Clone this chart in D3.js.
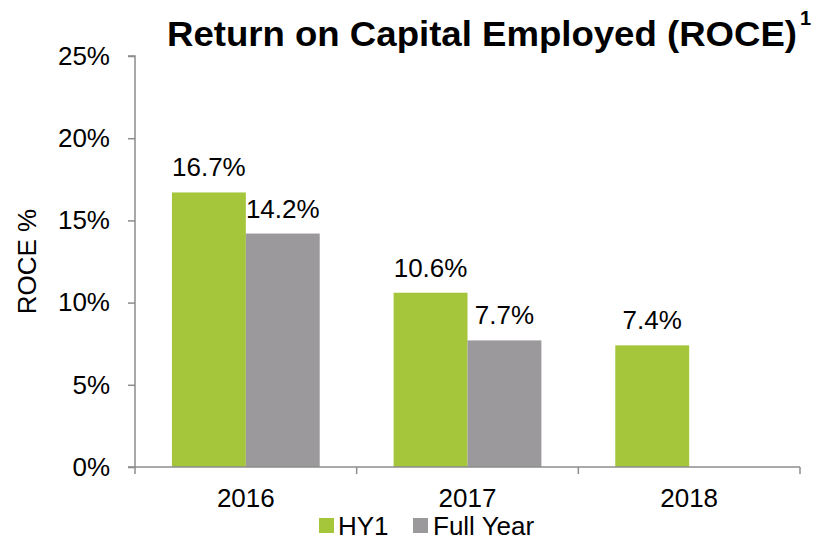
<!DOCTYPE html>
<html>
<head>
<meta charset="utf-8">
<script src="https://cdn.jsdelivr.net/npm/d3@7"></script>
<style>
  body { margin: 0; background: #fff; }
  text { font-family: "Liberation Sans", Arial, sans-serif; fill: #000; }
</style>
</head>
<body>
<svg width="813" height="541"></svg>
<script>
const years = ['2016', '2017', '2018'];
const seriesNames = ['HY1', 'Full Year'];
const hy1 = [16.7, 10.6, 7.4];
const fullYear = [14.2, 7.7, null];
const yTicks = [0, 5, 10, 15, 20, 25];
const colors = ['#a5c53a', '#9b999b'];

const margin = { left: 135, right: 13, top: 56, bottom: 74 };
const svg = d3.select('svg');
const width = +svg.attr('width');
const height = +svg.attr('height');
const innerWidth = width - margin.left - margin.right;
const innerHeight = height - margin.top - margin.bottom;
const g = svg.append('g')
  .attr('transform', `translate(${margin.left},${margin.top})`);

const xScale = d3.scaleBand()
  .domain(years)
  .range([0, innerWidth]);

// excel style: gap width 100% -> each bar is a third of the band
const xInner = d3.scaleBand()
  .domain(seriesNames)
  .range([xScale.bandwidth() / 6, xScale.bandwidth() * 5 / 6]);

const yScale = d3.scaleLinear()
  .domain([0, 25])
  .range([innerHeight, 0]);

const data = years.map((y, i) => ({
  year: y,
  values: [
    { name: 'HY1', value: hy1[i] },
    { name: 'Full Year', value: fullYear[i] }
  ].filter(d => d.value != null)
}));

const groups = g.selectAll('g.year')
  .data(data)
  .enter().append('g')
  .attr('class', 'year')
  .attr('transform', d => `translate(${xScale(d.year)},0)`);

const bars = groups.selectAll('g.bar')
  .data(d => d.values)
  .enter().append('g')
  .attr('class', 'bar');

bars.append('rect')
  .attr('x', d => xInner(d.name))
  .attr('y', d => yScale(d.value))
  .attr('width', xInner.bandwidth())
  .attr('height', d => innerHeight - yScale(d.value))
  .attr('fill', d => colors[seriesNames.indexOf(d.name)]);

bars.append('text')
  .attr('x', d => xInner(d.name) + xInner.bandwidth() / 2)
  .attr('y', d => yScale(d.value) - 16)
  .attr('text-anchor', 'middle')
  .style('font-size', '26px')
  .text(d => d.value.toFixed(1) + '%');

// axes
const axisColor = '#8c8c8c';
const yAxis = d3.axisLeft(yScale)
  .tickValues(yTicks)
  .tickSize(7)
  .tickPadding(18)
  .tickFormat(d => d + '%');
const yAxisG = g.append('g').call(yAxis);

const xAxis = d3.axisBottom(xScale).tickSize(0).tickPadding(22);
const xAxisG = g.append('g')
  .attr('transform', `translate(0,${innerHeight})`)
  .call(xAxis);

// band boundary ticks on the x axis
xAxisG.selectAll('line.bound')
  .data([0].concat(years.map(y => xScale(y) + xScale.bandwidth())))
  .enter().append('line')
  .attr('class', 'bound')
  .attr('x1', d => d).attr('x2', d => d)
  .attr('y1', 0).attr('y2', 7);

[yAxisG, xAxisG].forEach(a => {
  a.attr('font-size', 26)
    .attr('font-family', '"Liberation Sans", Arial, sans-serif');
  a.selectAll('path.domain').attr('stroke', axisColor).attr('stroke-width', 1.5);
  a.selectAll('line').attr('stroke', axisColor).attr('stroke-width', 1.5);
  a.selectAll('.tick text').attr('fill', '#000');
});
yAxisG.select('path.domain').attr('d', `M-7,0H0V${innerHeight}H-7`);
xAxisG.select('path.domain').attr('d', `M0,0H${innerWidth}`);

// y axis label
svg.append('text')
  .attr('transform', `translate(36,${margin.top + innerHeight / 2}) rotate(-90)`)
  .attr('text-anchor', 'middle')
  .style('font-size', '26px')
  .text('ROCE %');

// title
svg.append('text')
  .attr('x', 167)
  .attr('y', 46)
  .attr('textLength', 630)
  .attr('lengthAdjust', 'spacingAndGlyphs')
  .style('font-size', '35px')
  .style('font-weight', 'bold')
  .text('Return on Capital Employed (ROCE)');
svg.append('text')
  .attr('x', 800)
  .attr('y', 25)
  .style('font-size', '20px')
  .style('font-weight', 'bold')
  .text('1');

// legend
const legendX = [319, 413];
const legend = svg.selectAll('g.legend')
  .data(seriesNames)
  .enter().append('g')
  .attr('class', 'legend')
  .attr('transform', (d, i) => `translate(${legendX[i]},518)`);
legend.append('rect')
  .attr('width', 15).attr('height', 15)
  .attr('fill', (d, i) => colors[i]);
legend.append('text')
  .attr('x', (d, i) => i === 0 ? 19 : 20)
  .attr('y', 17)
  .style('font-size', '26px')
  .text(d => d);
</script>
</body>
</html>
